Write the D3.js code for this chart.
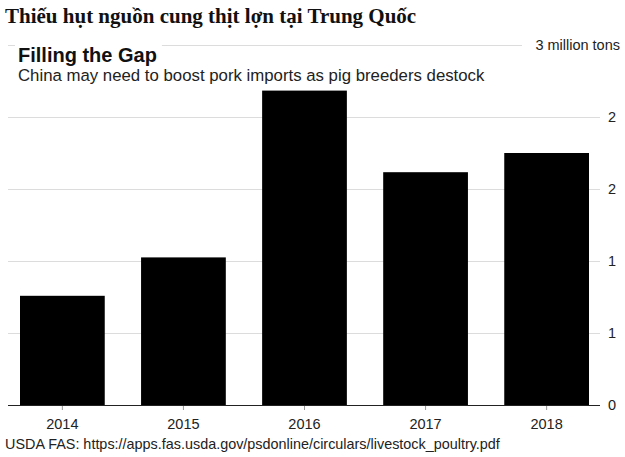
<!DOCTYPE html>
<html><head><meta charset="utf-8">
<script src="https://cdn.jsdelivr.net/npm/d3@7"></script>
<style>body{margin:0;background:#fff}svg{display:block}</style>
</head><body>
<svg id="c" width="625" height="457"></svg>
<script>
const years = ["2014","2015","2016","2017","2018"];
const imports = [0.91, 1.23, 2.62, 1.94, 2.10];
const tickValues = [0, 0.6, 1.2, 1.8, 2.4, 3.0];
const tickLabels = ["0","1","1","2","2","3 million tons"];

const svg = d3.select("#c");
const sans = "'Liberation Sans', Arial, sans-serif";

const x = d3.scaleBand().domain(years).range([20, 589]).paddingInner(0.3).paddingOuter(0);
const y = d3.scaleLinear().domain([0, 3]).range([405, 45]);

// gridlines
svg.append("g").selectAll("line").data(tickValues).join("line")
  .attr("x1", 8).attr("x2", (d,i) => i === tickValues.length-1 ? 522 : 600)
  .attr("y1", d => y(d)).attr("y2", d => y(d))
  .attr("stroke", d => d === 0 ? "#222" : "#dcdcdc").attr("stroke-width", 1)
  .attr("shape-rendering","crispEdges");

// right labels
svg.append("g").selectAll("text").data(tickValues).join("text")
  .attr("x", (d,i) => i === tickValues.length-1 ? 620 : 608)
  .attr("text-anchor", (d,i) => i === tickValues.length-1 ? "end" : "start")
  .attr("y", d => y(d) + 5)
  .attr("font-family", sans).attr("font-size", 14.5).attr("fill", "#222")
  .text((d,i) => tickLabels[i]);

// bars
svg.append("g").selectAll("rect").data(years).join("rect")
  .attr("x", d => x(d)).attr("width", x.bandwidth())
  .attr("y", (d,i) => y(imports[i])).attr("height", (d,i) => y(0) - y(imports[i]))
  .attr("fill", "#000");

// x ticks and labels
const xa = svg.append("g");
xa.selectAll("line").data(years).join("line")
  .attr("x1", d => x(d) + x.bandwidth()/2).attr("x2", d => x(d) + x.bandwidth()/2)
  .attr("y1", 406).attr("y2", 410).attr("stroke", "#999");
xa.selectAll("text").data(years).join("text")
  .attr("x", d => x(d) + x.bandwidth()/2).attr("y", 429)
  .attr("text-anchor", "middle")
  .attr("font-family", sans).attr("font-size", 14.5).attr("fill", "#222")
  .text(d => d);

// chart title with white background
const t = svg.append("text").attr("x", 18).attr("y", 62)
  .attr("font-family", sans).attr("font-size", 20).attr("font-weight", "bold").attr("fill", "#111")
  .text("Filling the Gap");
const bb = t.node().getBBox();
svg.insert("rect", () => t.node()).attr("x", bb.x - 3).attr("y", 40).attr("width", bb.width + 8).attr("height", 10).attr("fill", "#fff");
svg.append("text").attr("x", 18).attr("y", 81)
  .attr("font-family", sans).attr("font-size", 16.8).attr("fill", "#222")
  .text("China may need to boost pork imports as pig breeders destock");

// headline
svg.append("text").attr("x", 5).attr("y", 23)
  .attr("font-family", "'Liberation Serif', 'Times New Roman', serif").attr("font-size", 21).attr("font-weight", "bold").attr("fill", "#111")
  .text("Thiếu hụt nguồn cung thịt lợn tại Trung Quốc");

// source
svg.append("text").attr("x", 5).attr("y", 449)
  .attr("font-family", sans).attr("font-size", 14.4).attr("fill", "#222")
  .text("USDA FAS: https://apps.fas.usda.gov/psdonline/circulars/livestock_poultry.pdf");
</script>
</body></html>
